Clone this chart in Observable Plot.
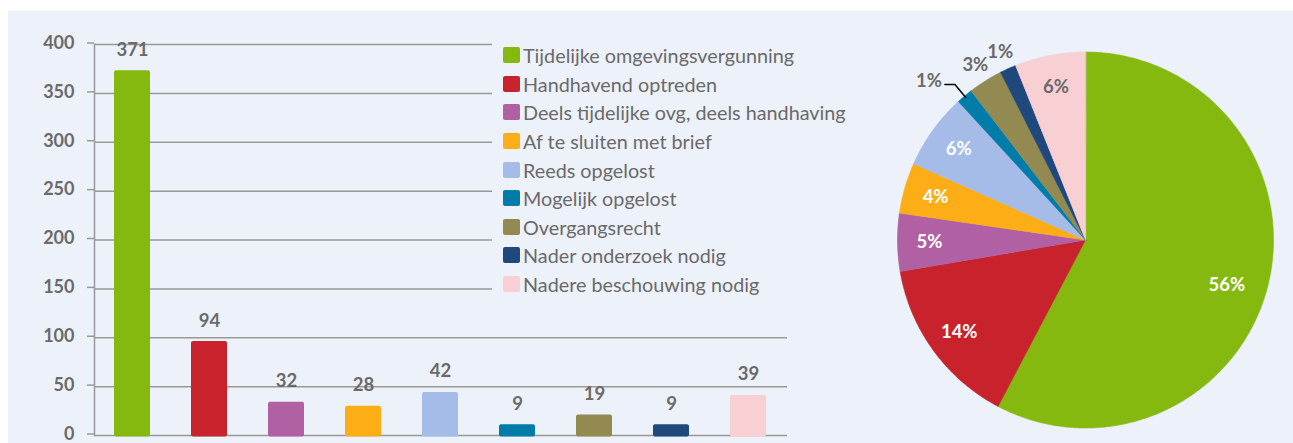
<!DOCTYPE html>
<html>
<head>
<meta charset="utf-8">
<script src="https://cdn.jsdelivr.net/npm/d3@7"></script>
<script src="https://cdn.jsdelivr.net/npm/@observablehq/plot@0.6"></script>
<style>
  html, body { margin: 0; padding: 0; background: #ffffff; }
  #wrap { position: relative; width: 1293px; height: 443px; overflow: hidden; font-family: Lato, "Open Sans", sans-serif; }
  #panel { position: absolute; left: 8px; top: 11px; right: 0; bottom: 0; background: #edf1f9; }
  #bar { position: absolute; left: 0; top: 0; width: 880px; height: 443px; }
  #pie { position: absolute; left: 880px; top: 0; width: 413px; height: 443px; }
  #legend { position: absolute; left: 492px; top: 41px; width: 370px; padding-left: 11px; background: #edf1f9; }
  .row { display: flex; align-items: center; height: 28.6px; color: #6a6a6a; font-size: 19.8px; white-space: nowrap; }
  .sw { width: 17px; height: 16px; border-radius: 2px; margin-right: 3px; flex: none; }
</style>
</head>
<body>
<div id="wrap">
  <div id="panel"></div>
  <div id="bar"></div>
  <div id="legend"></div>
  <div id="pie"></div>
</div>
<script>
// ---- data ----
const categories = [
  "Tijdelijke omgevingsvergunning",
  "Handhavend optreden",
  "Deels tijdelijke ovg, deels handhaving",
  "Af te sluiten met brief",
  "Reeds opgelost",
  "Mogelijk opgelost",
  "Overgangsrecht",
  "Nader onderzoek nodig",
  "Nadere beschouwing nodig"
];
const values = [371, 94, 32, 28, 42, 9, 19, 9, 39];
const pieLabels = ["56%", "14%", "5%", "4%", "6%", "1%", "3%", "1%", "6%"];
const colors = ["#86b910", "#c8232c", "#b060a3", "#fdae17", "#a5bce8", "#007ca9", "#928a50", "#1f487d", "#f8d0d4"];
const yTicks = [0, 50, 100, 150, 200, 250, 300, 350, 400];

const data = categories.map((c, i) => ({cat: c, value: values[i], label: pieLabels[i], color: colors[i]}));
const textGray = "#6a6a6a";
const gridGray = "#999999";

// ---- bar chart ----
const bar = Plot.plot({
  width: 880, height: 443,
  marginLeft: 94, marginRight: 93, marginTop: 44, marginBottom: 8,
  style: {background: "transparent", fontFamily: "Lato, sans-serif", overflow: "visible"},
  x: {domain: categories, paddingInner: 0.53, paddingOuter: 0.265, axis: null},
  y: {domain: [0, 400], axis: null},
  color: {domain: categories, range: colors},
  marks: [
    Plot.ruleY(yTicks, {stroke: gridGray, strokeWidth: 1.5}),
    Plot.axisY(yTicks, {anchor: "left", tickSize: 7, tickPadding: 13, stroke: gridGray, strokeWidth: 1.5,
      fill: textGray, fontWeight: "bold", fontSize: 18, dy: -1.5, tickFormat: d => String(d), label: null}),
    Plot.frame({anchor: "left", stroke: gridGray, strokeWidth: 1.5}),
    Plot.barY(data, {x: "cat", y: "value", fill: "cat", rx: 2, insetTop: -2, insetBottom: -1.5}),
    Plot.text(data, {x: "cat", y: "value", text: d => String(d.value), lineAnchor: "bottom", dy: -17,
      fill: textGray, fontWeight: "bold", fontSize: 18.5})
  ]
});
document.getElementById("bar").appendChild(bar);

// ---- legend ----
const legend = document.getElementById("legend");
data.forEach(d => {
  const row = document.createElement("div");
  row.className = "row";
  const sw = document.createElement("span");
  sw.className = "sw";
  sw.style.background = d.color;
  const tx = document.createElement("span");
  tx.textContent = d.cat;
  row.appendChild(sw);
  row.appendChild(tx);
  legend.appendChild(row);
});

// ---- pie chart ----
const R = 188;            // radius in px
const cx = 205, cy = 239.5; // centre inside the pie svg (px)
const W = 413, H = 443;
const arcs = d3.pie().sort(null).value(d => d.value)(data);
const pts = [];
arcs.forEach(a => {
  const c = a.data.cat;
  pts.push({cat: c, x: 0, y: 0});
  const n = Math.max(2, Math.ceil((a.endAngle - a.startAngle) / 0.01));
  for (let k = 0; k <= n; k++) {
    const t = a.startAngle + (a.endAngle - a.startAngle) * k / n;
    pts.push({cat: c, x: Math.sin(t), y: Math.cos(t)});
  }
});

const labels = arcs.map(a => {
  const share = (a.endAngle - a.startAngle) / (2 * Math.PI);
  // large slice label sits a little further round and inward (best-fit placement)
  const mid = (a.startAngle + a.endAngle) / 2 + (share > 0.4 ? 0.07 : 0);
  const inside = a.data.value >= 20;
  const r = inside ? (share > 0.4 ? 0.79 : 0.83) : 1.1;
  const light = d3.lab(a.data.color).l > 80;
  return {cat: a.data.cat, text: a.data.label, mid, inside,
          x: r * Math.sin(mid), y: r * Math.cos(mid),
          fill: inside && !light ? "#ffffff" : textGray};
});

// leader line for the crowded small slice (Mogelijk opgelost)
const leaderCat = categories[5];
const la = arcs[5];
const lmid = (la.startAngle + la.endAngle) / 2;
const elbow = {x: 1.08 * Math.sin(lmid), y: 1.08 * Math.cos(lmid)};
const leaderEnd = {x: elbow.x - 10 / R, y: elbow.y};
const leader = [
  {x: Math.sin(lmid) * 0.99, y: Math.cos(lmid) * 0.99},
  elbow,
  leaderEnd
];
const normalLabels = labels.filter(l => l.cat !== leaderCat);
const leaderLabel = [{text: labels[5].text, x: leaderEnd.x, y: leaderEnd.y}];

const pie = Plot.plot({
  width: W, height: H, margin: 0,
  style: {background: "transparent", fontFamily: "Lato, sans-serif", overflow: "visible"},
  x: {domain: [-cx / R, (W - cx) / R], axis: null},
  y: {domain: [-(H - cy) / R, cy / R], axis: null},
  color: {domain: categories, range: colors},
  marks: [
    Plot.line(pts, {x: "x", y: "y", z: "cat", fill: "cat", stroke: "cat", strokeWidth: 0.6, curve: "linear-closed"}),
    Plot.line(leader, {x: "x", y: "y", stroke: "#000000", strokeWidth: 1.5}),
    Plot.text(normalLabels, {x: "x", y: "y", text: "text", fill: d => d.fill, fontWeight: "bold", fontSize: 18.5}),
    Plot.text(leaderLabel, {x: "x", y: "y", text: "text", fill: textGray, fontWeight: "bold", fontSize: 18.5,
      textAnchor: "end", dx: -3, dy: -3})
  ]
});
document.getElementById("pie").appendChild(pie);
</script>
</body>
</html>
